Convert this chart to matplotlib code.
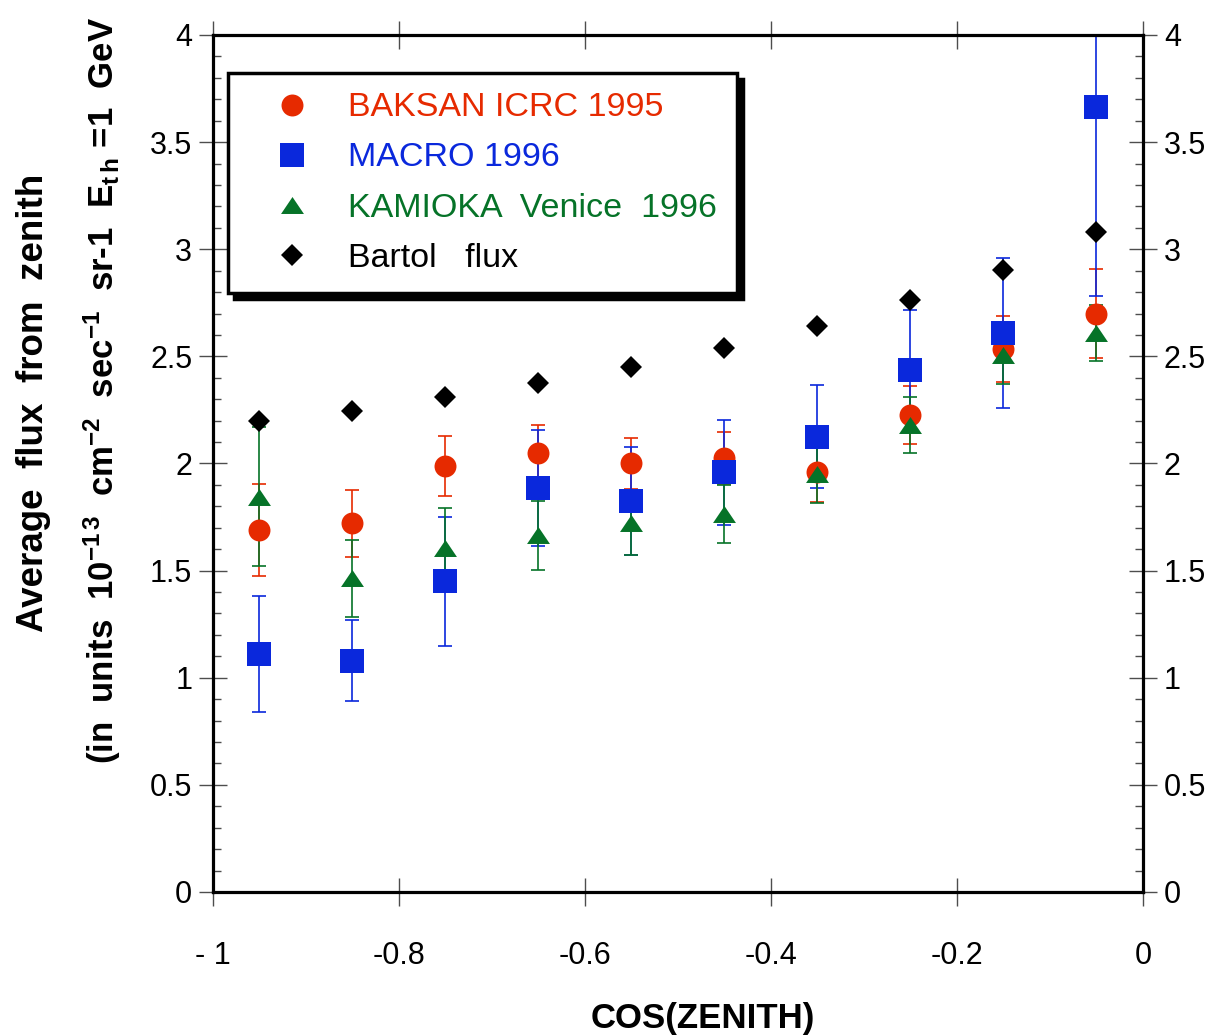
import matplotlib
matplotlib.use("Agg")
import matplotlib.pyplot as plt
from matplotlib.lines import Line2D
from matplotlib.ticker import MultipleLocator

plt.rcParams['font.family'] = ['Liberation Sans', 'DejaVu Sans']
plt.rcParams['mathtext.fontset'] = 'custom'
plt.rcParams['mathtext.rm'] = 'Liberation Sans:bold'
plt.rcParams['mathtext.it'] = 'Liberation Sans:bold'
plt.rcParams['mathtext.bf'] = 'Liberation Sans:bold'

# cos(zenith) bin centres
cos_zenith = [-0.95, -0.85, -0.75, -0.65, -0.55, -0.45, -0.35, -0.25, -0.15, -0.05]

baksan = [1.69, 1.72, 1.99, 2.05, 2.00, 2.025, 1.96, 2.225, 2.535, 2.70]
baksan_err = [0.215, 0.155, 0.14, 0.13, 0.12, 0.12, 0.14, 0.135, 0.155, 0.21]

macro = [1.11, 1.08, 1.45, 1.885, 1.825, 1.96, 2.125, 2.435, 2.61, 3.665]
macro_err = [0.27, 0.19, 0.30, 0.27, 0.25, 0.245, 0.24, 0.28, 0.35, 0.885]

kamioka = [1.845, 1.465, 1.605, 1.665, 1.72, 1.765, 1.95, 2.18, 2.505, 2.61]
kamioka_err = [0.325, 0.18, 0.185, 0.16, 0.145, 0.135, 0.135, 0.13, 0.135, 0.13]

bartol = [2.20, 2.245, 2.31, 2.375, 2.45, 2.54, 2.64, 2.765, 2.905, 3.08]

x_ticks = [-1, -0.8, -0.6, -0.4, -0.2, 0]
x_ticklabels = ['- 1', '-0.8', '-0.6', '-0.4', '-0.2', '0']
y_ticks = [0, 0.5, 1, 1.5, 2, 2.5, 3, 3.5, 4]
y_ticklabels = ['0', '0.5', '1', '1.5', '2', '2.5', '3', '3.5', '4']

RED = '#E62A00'
BLUE = '#0A28DC'
GREEN = '#067328'
BLACK = '#000000'

# flattened triangle marker
tri = [(-1, -0.74), (1, -0.74), (0, 0.74)]

fig = plt.figure(figsize=(12.31, 10.35), dpi=100)
ax = fig.add_axes([0.1730, 0.1382, 0.9285 - 0.1730, 0.9662 - 0.1382])

err_kw = dict(fmt='none', elinewidth=1.2, capsize=5, capthick=1.2, zorder=2)
ax.errorbar(cos_zenith, baksan, yerr=baksan_err, ecolor=RED, **err_kw)
ax.errorbar(cos_zenith, macro, yerr=macro_err, ecolor=BLUE, **err_kw)
ax.errorbar(cos_zenith, kamioka, yerr=kamioka_err, ecolor=GREEN, **err_kw)

ax.plot(cos_zenith, baksan, 'o', color=RED, ms=15.8, mew=0, zorder=3)
ax.plot(cos_zenith, macro, 's', color=BLUE, ms=17, mew=0, zorder=3)
ax.plot(cos_zenith, kamioka, ls='none', marker=tri, color=GREEN, ms=16.5, mew=0, zorder=3)
ax.plot(cos_zenith, bartol, 'D', color=BLACK, ms=11.5, mew=0, zorder=4)

ax.set_xlim(-1, 0)
ax.set_ylim(0, 4)
ax.set_xticks(x_ticks)
ax.set_xticklabels(x_ticklabels)
ax.set_yticks(y_ticks)
ax.set_yticklabels(y_ticklabels)
ax.yaxis.set_minor_locator(MultipleLocator(0.1))

for sp in ax.spines.values():
    sp.set_linewidth(2.3)

ax.tick_params(axis='x', which='major', direction='inout', length=20, width=1.0,
               color='0.3', top=True, bottom=True, labelsize=22, pad=25)
ax.tick_params(axis='y', which='major', direction='inout', length=20, width=1.0,
               color='0.3', left=True, right=True, labelleft=True, labelright=True,
               labelsize=22, pad=5)
ax.tick_params(axis='y', which='minor', direction='in', length=6, width=1.0,
               color='0.3', left=True, right=True)

ax.set_xlabel('COS(ZENITH)', fontsize=25, fontweight='bold')
ax.xaxis.set_label_coords(0.527, -0.128)

fig.text(0.027, 0.611, 'Average  flux  from  zenith', rotation=90,
         fontsize=26.5, fontweight='bold', ha='center', va='center')
fig.text(0.083, 0.623,
         r'(in  units  10$^{-1\,3}$  cm$^{-2}$  sec$^{-1}$  sr-1  E$_{t\,h}$ =1  GeV',
         rotation=90, fontsize=25, fontweight='bold', ha='center', va='center')

handles = [
    Line2D([], [], ls='none', marker='o', color=RED, ms=15.8, mew=0),
    Line2D([], [], ls='none', marker='s', color=BLUE, ms=17, mew=0),
    Line2D([], [], ls='none', marker=tri, color=GREEN, ms=16.5, mew=0),
    Line2D([], [], ls='none', marker='D', color=BLACK, ms=11.5, mew=0),
]
labels = ['BAKSAN ICRC 1995', 'MACRO 1996', 'KAMIOKA  Venice  1996', 'Bartol   flux']
leg = ax.legend(handles, labels, loc='upper left', bbox_to_anchor=(0.016, 0.956),
                borderaxespad=0, fontsize=24.5, frameon=True, fancybox=False,
                framealpha=1, edgecolor='black', borderpad=0.58, handlelength=2.6,
                handletextpad=0.36, labelspacing=0.56,
                labelcolor=[RED, BLUE, GREEN, BLACK],
                shadow={'color': 'black', 'alpha': 1, 'ox': 4.3, 'oy': -4.3})
leg.get_frame().set_linewidth(2.5)
leg.set_zorder(5)

fig.savefig('out.png', dpi=100)
